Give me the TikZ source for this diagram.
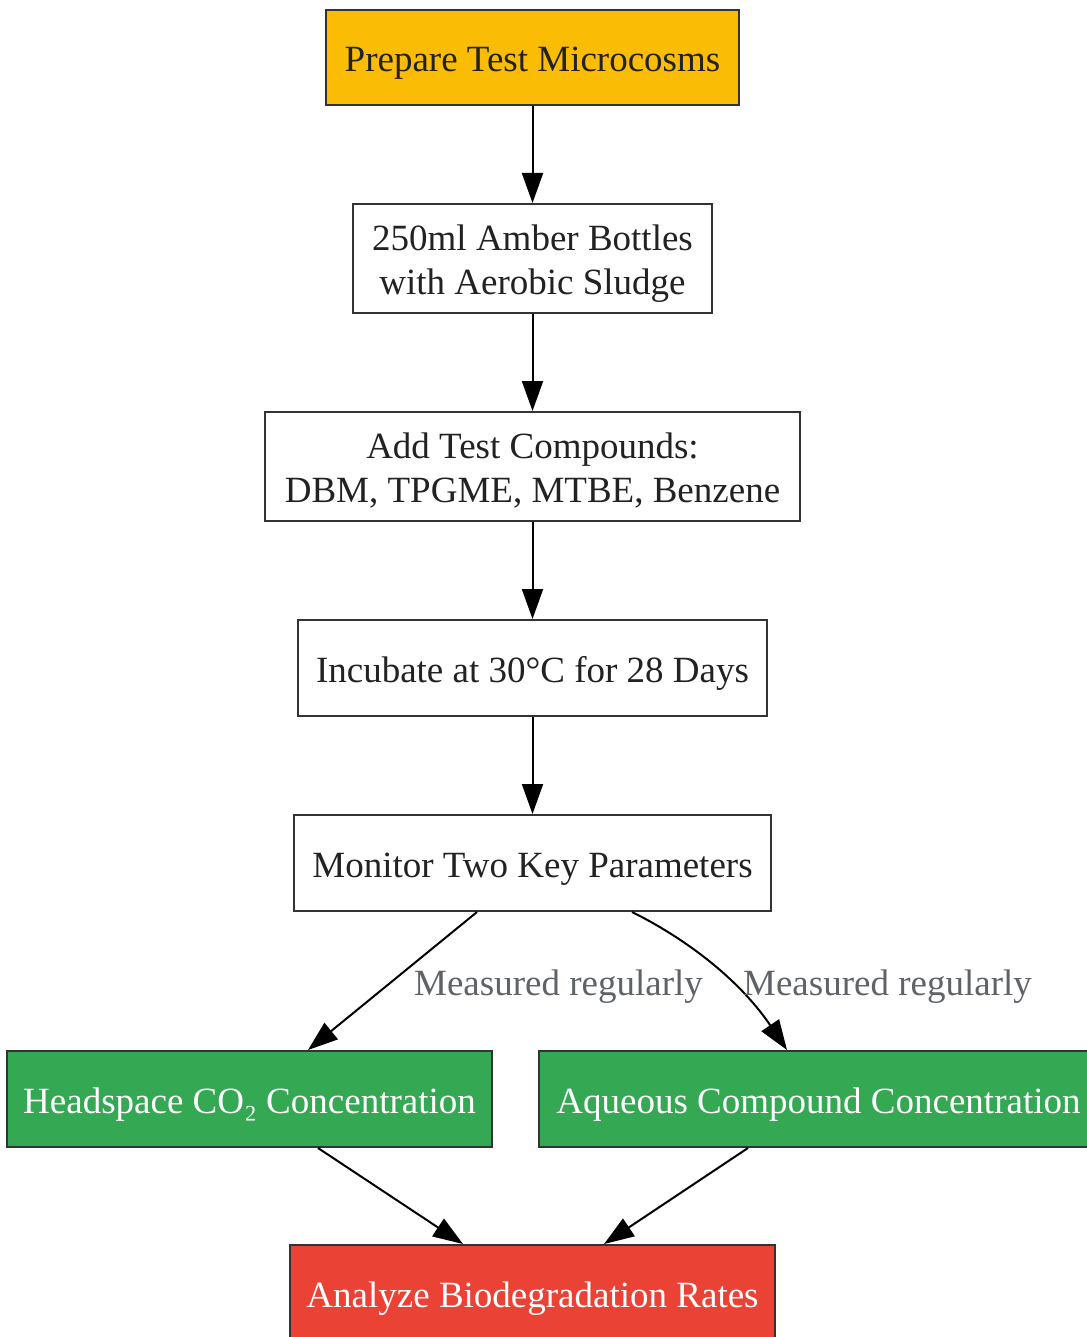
\documentclass[tikz,border=0pt]{standalone}
\usepackage{fontspec}
\setmainfont{Liberation Serif}
\usetikzlibrary{arrows.meta,calc}
\definecolor{gyellow}{HTML}{FBBC05}
\definecolor{ggreen}{HTML}{34A853}
\definecolor{gred}{HTML}{EA4335}
\definecolor{bordc}{HTML}{333333}
\definecolor{txtc}{HTML}{222222}
\definecolor{lblc}{HTML}{5F6368}
\newcommand\boxtxt[1]{\raisebox{0pt}[\dimexpr\height+11pt\relax][\depth]{\begin{tabular}{@{}c@{}}#1\end{tabular}}}
\begin{document}
\begin{tikzpicture}[x=1pt,y=-1pt,
  box/.style={draw=bordc, line width=2pt, rectangle, inner sep=0pt,
    font=\fontsize{37}{44}\selectfont, text=txtc},
  conn/.style={line width=2pt, -{Triangle[length=30pt,width=21pt]}},
  lbl/.style={font=\fontsize{37}{44}\selectfont, text=lblc, inner sep=0pt}]
\useasboundingbox (0,0) rectangle (1086,1337);
\node[box, fill=gyellow, minimum width=413pt, minimum height=95pt] (prep) at (532.5,57.5) {\boxtxt{Prepare Test Microcosms}};
\node[box, fill=white, minimum width=359pt, minimum height=109pt] (bott) at (532.5,258.5) {\boxtxt{250ml Amber Bottles\\with Aerobic Sludge}};
\node[box, fill=white, minimum width=535pt, minimum height=109pt] (add) at (532.5,466.5) {\boxtxt{Add Test Compounds:\\DBM, TPGME, MTBE, Benzene}};
\node[box, fill=white, minimum width=469pt, minimum height=96pt] (inc) at (532.5,668) {\boxtxt{Incubate at 30°C for 28 Days}};
\node[box, fill=white, minimum width=477pt, minimum height=96pt] (mon) at (532.5,863) {\boxtxt{Monitor Two Key Parameters}};
\node[box, fill=ggreen, text=white, minimum width=485pt, minimum height=96pt] (co2) at (249.5,1099) {\boxtxt{Headspace CO₂ Concentration}};
\node[box, fill=ggreen, text=white, minimum width=559pt, minimum height=96pt] (aq) at (818.5,1099) {\boxtxt{Aqueous Compound Concentration}};
\node[box, fill=gred, text=white, minimum width=485pt, minimum height=96pt] (ana) at (532.5,1293) {\boxtxt{Analyze Biodegradation Rates}};

\draw[conn] (prep) -- (bott);
\draw[conn] (bott) -- (add);
\draw[conn] (add) -- (inc);
\draw[conn] (inc) -- (mon);
\draw[conn] ($(mon.south)+(-55.5,0)$) -- ($(co2.north)+(58.5,0)$);
\draw[conn] ($(mon.south)+(99.5,0)$) .. controls ($(mon.south)+(150,25)$) and ($(mon.south)+(205,65)$) .. ($(aq.north)+(-31.5,0)$);
\draw[conn] ($(co2.south)+(68.5,0)$) -- ($(ana.north)+(-69.5,0)$);
\draw[conn] ($(aq.south)+(-70.5,0)$) -- ($(ana.north)+(71.5,0)$);
\node[lbl] (l1) at (558.5,987) {Measured regularly};
\node[lbl] (l2) at (887.5,987) {Measured regularly};
\end{tikzpicture}
\end{document}
